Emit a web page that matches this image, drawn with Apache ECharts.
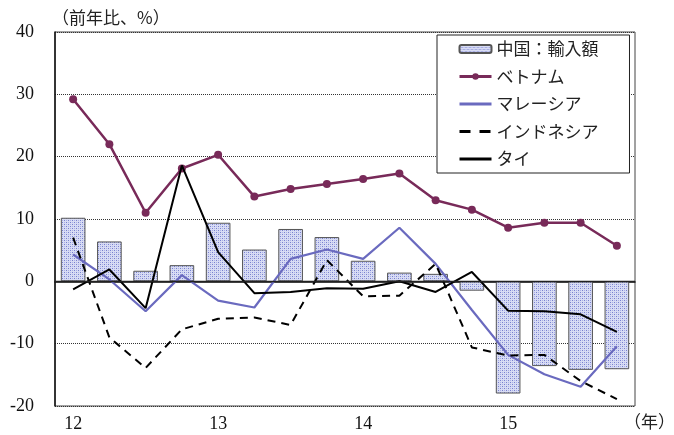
<!DOCTYPE html>
<html>
<head>
<meta charset="utf-8">
<script src="https://cdn.jsdelivr.net/npm/echarts@6/dist/echarts.min.js"></script>
<style>
  html, body { margin: 0; padding: 0; background: #fff; }
  #chart { width: 674px; height: 435px; }
</style>
</head>
<body>
<div id="chart"></div>
<script>
// Quarterly year-on-year growth (%), 2012 Q1 – 2015 Q4
const categories = ['12Q1','12Q2','12Q3','12Q4','13Q1','13Q2','13Q3','13Q4',
                    '14Q1','14Q2','14Q3','14Q4','15Q1','15Q2','15Q3','15Q4'];
const chinaImports = [10.2, 6.4, 1.7, 2.6, 9.4, 5.1, 8.4, 7.1, 3.3, 1.4, 1.2, -1.5, -18.0, -13.6, -14.2, -14.1];
const vietnam      = [29.2, 22.0, 11.0, 18.1, 20.3, 13.6, 14.8, 15.6, 16.4, 17.3, 13.0, 11.5, 8.6, 9.4, 9.4, 5.7];
const malaysia     = [4.3, 0.3, -4.8, 1.0, -3.1, -4.2, 3.6, 5.1, 3.6, 8.6, 2.8, -4.6, -11.8, -14.9, -16.9, -10.4];
const indonesia    = [7.0, -9.0, -13.9, -7.7, -6.0, -5.8, -7.0, 3.4, -2.4, -2.3, 2.8, -10.6, -11.9, -11.8, -16.0, -18.9];
const thailand     = [-1.3, 1.9, -4.3, 18.6, 4.7, -1.9, -1.7, -1.1, -1.2, 0.0, -1.7, 1.5, -4.7, -4.8, -5.3, -8.1];

const seriesNames = ['中国：輸入額', 'ベトナム', 'マレーシア', 'インドネシア', 'タイ'];
const yTicks = { min: -20, max: 40, interval: 10 };

// Dotted fill used for the import bars
function dotPattern() {
  const c = document.createElement('canvas');
  c.width = 4; c.height = 4;
  const g = c.getContext('2d');
  g.fillStyle = '#d8dcf4';
  g.fillRect(0, 0, 4, 4);
  g.fillStyle = '#7880cf';
  g.fillRect(0, 0, 1, 1);
  g.fillRect(2, 2, 1, 1);
  g.fillStyle = '#aab0e6';
  g.fillRect(2, 0, 1, 1);
  g.fillRect(0, 2, 1, 1);
  return { image: c, repeat: 'repeat' };
}

const serif = '"Liberation Serif", "Times New Roman", serif';
const jp = '"Noto Sans CJK JP", sans-serif';
// plain line legend keys: hide the marker, keep the stroke
const lineOnly = { opacity: 0 };

const chart = echarts.init(document.getElementById('chart'), null, { renderer: 'canvas' });

chart.setOption({
  animation: false,
  backgroundColor: '#fff',
  grid: {
    left: 55, right: 39, top: 32, bottom: 29,
    show: true, borderColor: '#444', borderWidth: 1, backgroundColor: 'transparent'
  },
  graphic: [
    { type: 'text', left: 52, top: 9,
      style: { text: '（前年比、%）', font: '17px ' + jp, fill: '#222' } },
    { type: 'text', left: 624, top: 413,
      style: { text: '（年）', font: '17px ' + jp, fill: '#222' } }
  ],
  legend: {
    orient: 'vertical',
    left: 437, top: 35,
    padding: [4, 31, 4, 21],
    itemGap: 7.5,
    itemWidth: 32,
    itemHeight: 8,
    backgroundColor: '#fff',
    borderColor: '#222',
    borderWidth: 1,
    borderRadius: 0,
    lineStyle: { width: 3 },
    data: [
      { name: seriesNames[0] },
      { name: seriesNames[1] },
      { name: seriesNames[2], itemStyle: lineOnly },
      { name: seriesNames[3], itemStyle: lineOnly, lineStyle: { width: 3, type: [11, 9] } },
      { name: seriesNames[4], itemStyle: lineOnly }
    ],
    textStyle: { fontFamily: jp, fontSize: 17, lineHeight: 20, color: '#222' }
  },
  xAxis: {
    type: 'category',
    data: categories,
    boundaryGap: true,
    axisLine: { lineStyle: { color: '#111', width: 1.5 } },
    axisTick: { show: false },
    axisLabel: {
      interval: 3,
      margin: 9,
      fontFamily: serif, fontSize: 18, color: '#111',
      formatter: v => v.slice(0, 2)
    },
    splitLine: { show: false }
  },
  yAxis: {
    type: 'value',
    min: yTicks.min, max: yTicks.max, interval: yTicks.interval,
    axisLine: { show: true, lineStyle: { color: '#111', width: 1.5 } },
    axisTick: { show: false },
    axisLabel: { margin: 21, fontFamily: serif, fontSize: 18, color: '#111' },
    splitLine: { show: true, lineStyle: { type: 'dotted', color: '#333', width: 1 } }
  },
  series: [
    {
      name: seriesNames[0],
      type: 'bar',
      data: chinaImports,
      barWidth: '68%',
      itemStyle: { color: dotPattern(), borderColor: '#555', borderWidth: 1 },
      markLine: {
        silent: true,
        symbol: 'none',
        label: { show: false },
        lineStyle: { type: 'solid', color: '#222', width: 1.3 },
        data: [{ yAxis: 0 }]
      },
      z: 1
    },
    {
      name: seriesNames[1],
      type: 'line',
      data: vietnam,
      symbol: 'circle',
      symbolSize: 8,
      lineStyle: { color: '#782a59', width: 2.5 },
      itemStyle: { color: '#782a59' },
      z: 3
    },
    {
      name: seriesNames[2],
      type: 'line',
      data: malaysia,
      symbol: 'none',
      lineStyle: { color: '#6a6abf', width: 2.2 },
      itemStyle: { color: '#6a6abf' },
      z: 3
    },
    {
      name: seriesNames[3],
      type: 'line',
      data: indonesia,
      symbol: 'none',
      lineStyle: { color: '#000', width: 2, type: [8, 6] },
      itemStyle: { color: '#000' },
      z: 4
    },
    {
      name: seriesNames[4],
      type: 'line',
      data: thailand,
      symbol: 'none',
      lineStyle: { color: '#000', width: 2 },
      itemStyle: { color: '#000' },
      z: 4
    }
  ]
});
</script>
</body>
</html>
